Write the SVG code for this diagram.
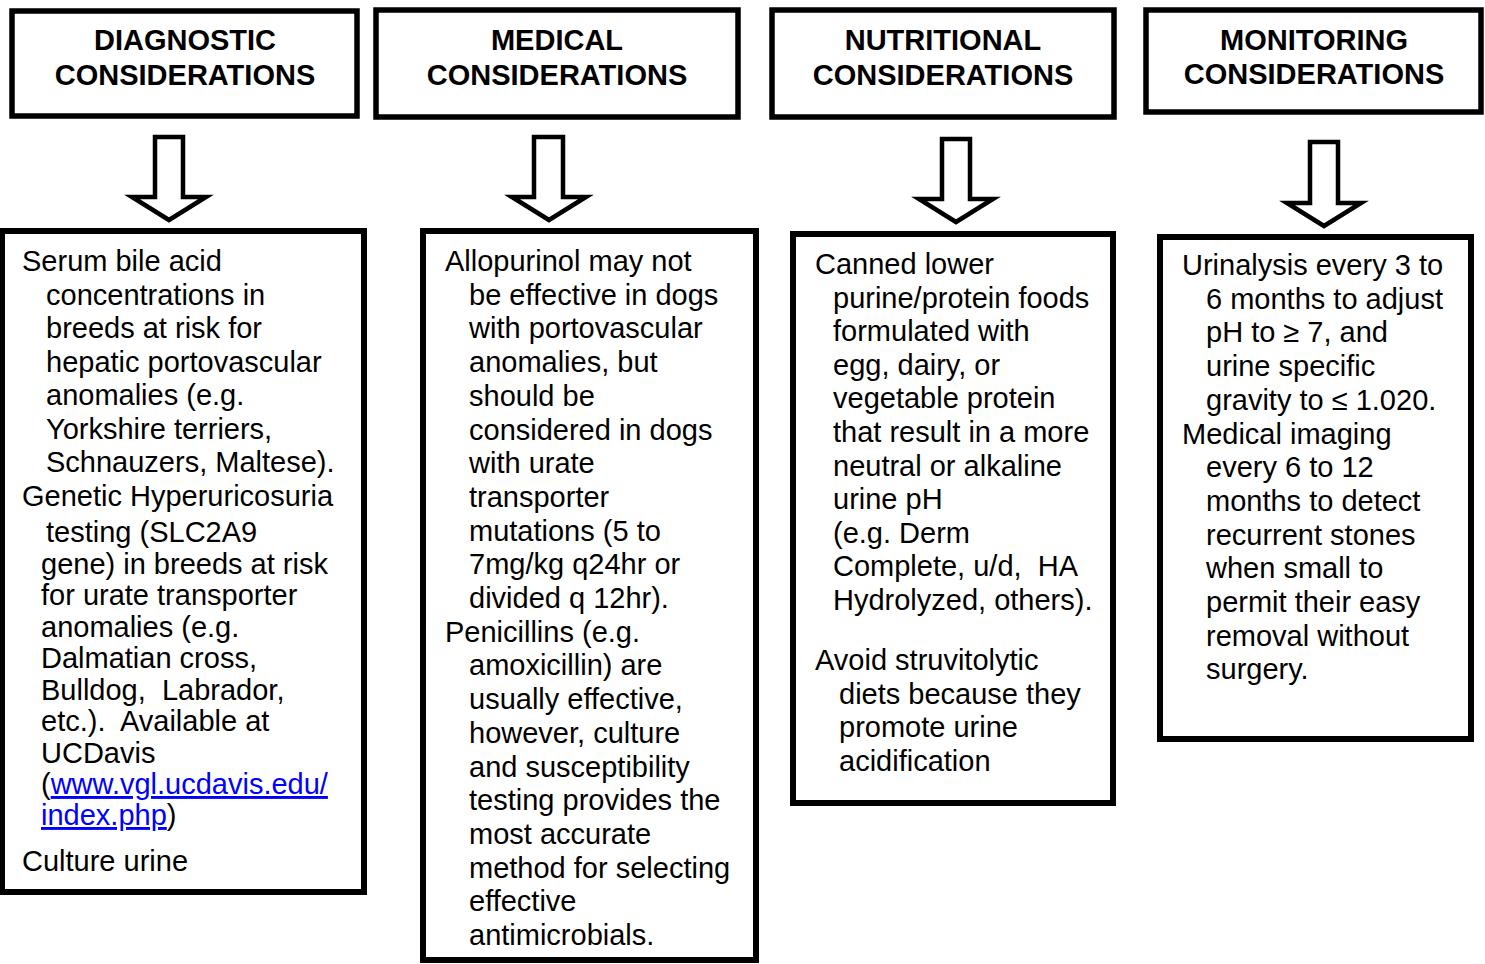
<svg xmlns="http://www.w3.org/2000/svg" width="1485" height="964" viewBox="0 0 1485 964">
<style>
.box{fill:#fff;stroke:#000;stroke-width:5.5}
.body{fill:#fff;stroke:#000;stroke-width:6}
.arrow{fill:#fff;stroke:#000;stroke-width:4.5;stroke-linejoin:miter}
.h{font-family:"Liberation Sans",Arial,sans-serif;font-size:29px;font-weight:bold;fill:#000;text-anchor:middle}
.t{font-family:"Liberation Sans",Arial,sans-serif;font-size:29px;fill:#000;white-space:pre}
.link{fill:#0000ff;text-decoration:underline}
</style>
<rect width="1485" height="964" fill="#fff"/>
<g id="header-diagnostic">
<rect class="box" x="12" y="11" width="345" height="105"/>
<text class="h" x="185" y="50">DIAGNOSTIC</text>
<text class="h" x="185" y="85">CONSIDERATIONS</text>
</g>
<g id="header-medical">
<rect class="box" x="376" y="10" width="362" height="107"/>
<text class="h" x="557" y="50">MEDICAL</text>
<text class="h" x="557" y="85">CONSIDERATIONS</text>
</g>
<g id="header-nutritional">
<rect class="box" x="772" y="10" width="342" height="107"/>
<text class="h" x="943" y="50">NUTRITIONAL</text>
<text class="h" x="943" y="85">CONSIDERATIONS</text>
</g>
<g id="header-monitoring">
<rect class="box" x="1146" y="10" width="335" height="102"/>
<text class="h" x="1314" y="50">MONITORING</text>
<text class="h" x="1314" y="84">CONSIDERATIONS</text>
</g>
<g id="connectors">
<polygon class="arrow" points="155,137 183,137 183,197 206,197 169,220 132,197 155,197"/>
<polygon class="arrow" points="534,137 563,137 563,197 586,197 549,220 512,197 534,197"/>
<polygon class="arrow" points="942,139 970,139 970,199 993,199 956,222 919,199 942,199"/>
<polygon class="arrow" points="1310,142 1338,142 1338,203 1361,203 1324,226 1287,203 1310,203"/>
</g>
<g id="body-diagnostic">
<rect class="body" x="2" y="231" width="362" height="661"/>
<text class="t" x="22" y="271">Serum bile acid</text>
<text class="t" x="46" y="304.5">concentrations in</text>
<text class="t" x="46" y="338">breeds at risk for</text>
<text class="t" x="46" y="371.5">hepatic portovascular</text>
<text class="t" x="46" y="405">anomalies (e.g.</text>
<text class="t" x="46" y="438.5">Yorkshire terriers,</text>
<text class="t" x="46" y="472">Schnauzers, Maltese).</text>
<text class="t" x="22" y="506">Genetic Hyperuricosuria</text>
<text class="t" x="46" y="542">testing (SLC2A9</text>
<text class="t" x="41" y="574">gene) in breeds at risk</text>
<text class="t" x="41" y="605">for urate transporter</text>
<text class="t" x="41" y="637">anomalies (e.g.</text>
<text class="t" x="41" y="668">Dalmatian cross,</text>
<text class="t" x="41" y="700">Bulldog,  Labrador,</text>
<text class="t" x="41" y="731">etc.).  Available at</text>
<text class="t" x="41" y="763">UCDavis</text>
<text class="t" x="41" y="794">(<tspan class="link">www.vgl.ucdavis.edu/</tspan></text>
<text class="t" x="41" y="825"><tspan class="link">index.php</tspan>)</text>
<text class="t" x="22" y="871">Culture urine</text>
</g>
<g id="body-medical">
<rect class="body" x="423" y="231" width="333" height="729"/>
<text class="t" x="445" y="271">Allopurinol may not</text>
<text class="t" x="469" y="304.7">be effective in dogs</text>
<text class="t" x="469" y="338.4">with portovascular</text>
<text class="t" x="469" y="372.1">anomalies, but</text>
<text class="t" x="469" y="405.8">should be</text>
<text class="t" x="469" y="439.5">considered in dogs</text>
<text class="t" x="469" y="473.2">with urate</text>
<text class="t" x="469" y="506.9">transporter</text>
<text class="t" x="469" y="540.6">mutations (5 to</text>
<text class="t" x="469" y="574.3">7mg/kg q24hr or</text>
<text class="t" x="469" y="608">divided q 12hr).</text>
<text class="t" x="445" y="641.7">Penicillins (e.g.</text>
<text class="t" x="469" y="675.4">amoxicillin) are</text>
<text class="t" x="469" y="709.1">usually effective,</text>
<text class="t" x="469" y="742.8">however, culture</text>
<text class="t" x="469" y="776.5">and susceptibility</text>
<text class="t" x="469" y="810.2">testing provides the</text>
<text class="t" x="469" y="843.9">most accurate</text>
<text class="t" x="469" y="877.6">method for selecting</text>
<text class="t" x="469" y="911.3">effective</text>
<text class="t" x="469" y="945">antimicrobials.</text>
</g>
<g id="body-nutritional">
<rect class="body" x="793" y="234" width="320" height="569"/>
<text class="t" x="815" y="274">Canned lower</text>
<text class="t" x="833" y="307.6">purine/protein foods</text>
<text class="t" x="833" y="341.2">formulated with</text>
<text class="t" x="833" y="374.8">egg, dairy, or</text>
<text class="t" x="833" y="408.4">vegetable protein</text>
<text class="t" x="833" y="442">that result in a more</text>
<text class="t" x="833" y="475.6">neutral or alkaline</text>
<text class="t" x="833" y="509.2">urine pH</text>
<text class="t" x="833" y="542.8">(e.g. Derm</text>
<text class="t" x="833" y="576.4">Complete, u/d,  HA</text>
<text class="t" x="833" y="610">Hydrolyzed, others).</text>
<text class="t" x="815" y="670">Avoid struvitolytic</text>
<text class="t" x="839" y="703.6">diets because they</text>
<text class="t" x="839" y="737.2">promote urine</text>
<text class="t" x="839" y="770.8">acidification</text>
</g>
<g id="body-monitoring">
<rect class="body" x="1160" y="237" width="311" height="502"/>
<text class="t" x="1182" y="275">Urinalysis every 3 to</text>
<text class="t" x="1206" y="308.7">6 months to adjust</text>
<text class="t" x="1206" y="342.4">pH to ≥ 7, and</text>
<text class="t" x="1206" y="376.1">urine specific</text>
<text class="t" x="1206" y="409.8">gravity to ≤ 1.020.</text>
<text class="t" x="1182" y="443.5">Medical imaging</text>
<text class="t" x="1206" y="477.2">every 6 to 12</text>
<text class="t" x="1206" y="510.9">months to detect</text>
<text class="t" x="1206" y="544.6">recurrent stones</text>
<text class="t" x="1206" y="578.3">when small to</text>
<text class="t" x="1206" y="612">permit their easy</text>
<text class="t" x="1206" y="645.7">removal without</text>
<text class="t" x="1206" y="679.4">surgery.</text>
</g>
</svg>
